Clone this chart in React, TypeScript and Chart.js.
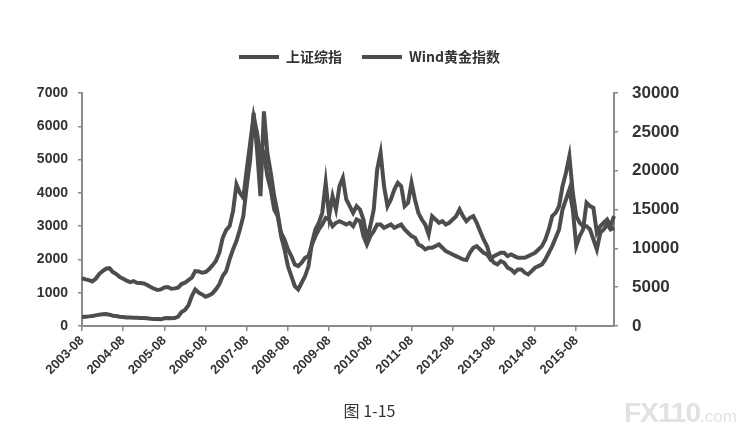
import React, { useEffect, useRef } from 'react';
import { Chart, registerables } from 'chart.js';

Chart.register(...registerables);

const FIRST_YEAR = 2003;
const FIRST_MONTH = 8;
const TICK_EVERY = 12;

const SHANGHAI_LABEL = '上证综指';
const GOLD_LABEL = 'Wind黄金指数';
const CAPTION = '图 1-15';

// 上证综指 (left axis), monthly from 2003-08 to 2016-07
const SHANGHAI = [
  1440, 1400, 1380, 1340, 1420, 1560, 1650, 1720, 1740, 1620, 1560, 1470,
  1420, 1360, 1320, 1350, 1300, 1290, 1280, 1230, 1170, 1120, 1080, 1100,
  1160, 1170, 1120, 1130, 1150, 1260, 1300, 1380, 1450, 1650, 1640, 1600,
  1620, 1700, 1820, 1950, 2200, 2650, 2880, 3000, 3450, 4250, 4000, 3850,
  4700, 5500, 6300, 5800, 5100, 5200, 4500, 4100, 3500, 3300, 2800, 2600,
  2300, 2100, 1850, 1800, 1900, 2050, 2100, 2450, 2700, 2900, 3050, 3250,
  3200, 3000, 3100, 3150, 3100, 3050, 3100, 3000, 3200, 3150, 2700, 2450,
  2700, 2850, 3050, 3050, 2950, 3000, 3050, 2950, 3000, 3050, 2900, 2800,
  2700, 2650, 2450, 2400, 2300, 2350, 2350, 2400, 2450, 2350, 2250, 2200,
  2150, 2100, 2050, 2000, 1980, 2200, 2350, 2400, 2300, 2200, 2150, 2000,
  2100, 2150, 2200, 2200, 2100, 2150, 2100, 2050, 2050, 2050, 2100, 2150,
  2200, 2300, 2400, 2600, 2900, 3300, 3400, 3600, 4200, 4600, 5100, 4000,
  3300, 3100, 3000, 3000, 2900, 2600, 2300, 2800, 2900, 3050, 2900, 2950,
];

// Wind黄金指数 (right axis), monthly from 2003-08 to 2016-07
const GOLD = [
  1160, 1200, 1240, 1290, 1370, 1460, 1500, 1540, 1460, 1330, 1290, 1200,
  1160, 1110, 1110, 1070, 1070, 1030, 1030, 990, 940, 900, 900, 860,
  990, 1030, 990, 1030, 1200, 1800, 2060, 2660, 3860, 4710, 4290, 4070,
  3770, 3940, 4200, 4710, 5360, 6430, 7070, 8570, 9860, 10930, 12430, 14140,
  18000, 21430, 27430, 22710, 16710, 27640, 22290, 19710, 16710, 14570, 11570, 9860,
  7710, 6430, 5140, 4710, 5570, 6430, 7710, 10710, 12430, 13290, 14570, 18430,
  14140, 16710, 15000, 18000, 19070, 16290, 15430, 14570, 15430, 15000, 13710, 11140,
  12860, 15000, 20140, 22290, 18000, 15430, 16290, 17570, 18430, 18000, 15430, 15860,
  18430, 16290, 14570, 13710, 13070, 11790, 14140, 13710, 13290, 13500, 13070, 13290,
  13710, 14140, 15000, 14140, 13500, 13930, 14140, 13290, 12210, 11140, 10290, 8790,
  8140, 7930, 8360, 8140, 7500, 7290, 6860, 7290, 7290, 6860, 6640, 7070,
  7500, 7710, 7930, 8570, 9430, 10290, 11360, 12430, 15000, 16290, 17570, 15000,
  10290, 11570, 12430, 15860, 15430, 15210, 12000, 12860, 13290, 13710, 12860, 14140,
];

const LEFT_MAX = 7000;
const LEFT_STEP = 1000;
const RIGHT_MAX = 30000;
const RIGHT_STEP = 5000;

const MONTHS = SHANGHAI.map((_, i) => {
  const m = FIRST_MONTH - 1 + i;
  const y = FIRST_YEAR + Math.floor(m / 12);
  return `${y}-${String((m % 12) + 1).padStart(2, '0')}`;
});

const LINE_COLOR = '#4d4d4d';
const AXIS_COLOR = '#8a8a8a';
const TEXT_COLOR = '#333333';

const legendSpacer = {
  id: 'legendSpacer',
  beforeInit(chart: any) {
    const legend = chart.legend;
    if (!legend) return;
    const origFit = legend.fit;
    legend.fit = function () {
      origFit.call(this);
      this.height += 19;
    };
  },
};

const plainNumber = (v: any) => String(v);

export default function App() {
  const canvasRef = useRef<HTMLCanvasElement | null>(null);

  useEffect(() => {
    if (!canvasRef.current) return;
    const chart = new Chart(canvasRef.current, {
      type: 'line',
      data: {
        labels: MONTHS,
        datasets: [
          {
            label: SHANGHAI_LABEL,
            data: SHANGHAI,
            yAxisID: 'y',
            borderColor: LINE_COLOR,
            backgroundColor: LINE_COLOR,
            borderWidth: 4,
            pointRadius: 0,
            tension: 0,
          },
          {
            label: GOLD_LABEL,
            data: GOLD,
            yAxisID: 'y1',
            borderColor: LINE_COLOR,
            backgroundColor: LINE_COLOR,
            borderWidth: 4,
            pointRadius: 0,
            tension: 0,
          },
        ],
      },
      options: {
        responsive: true,
        maintainAspectRatio: false,
        animation: false,
        layout: { padding: { top: 30, left: 0, right: 14, bottom: 0 } },
        plugins: {
          tooltip: { enabled: false },
          legend: {
            display: true,
            position: 'top',
            labels: {
              usePointStyle: true,
              pointStyle: 'line',
              pointStyleWidth: 40,
              padding: 20,
              color: TEXT_COLOR,
              font: { family: '"Noto Sans CJK SC", sans-serif', size: 14, weight: 'bold' },
            },
          },
          title: {
            display: true,
            text: CAPTION,
            position: 'bottom',
            color: TEXT_COLOR,
            font: { family: '"Noto Sans CJK SC", sans-serif', size: 16, weight: 'normal' },
            padding: { top: 6, bottom: 22 },
          },
        },
        scales: {
          x: {
            type: 'category',
            offset: false,
            afterBuildTicks: (scale: any) => {
              scale.ticks = scale.ticks.filter((t: any) => t.value % TICK_EVERY === 0);
            },
            afterFit: (scale: any) => {
              scale.height = 69.8;
            },
            grid: {
              display: true,
              drawOnChartArea: false,
              drawTicks: true,
              tickLength: 5,
              color: AXIS_COLOR,
              lineWidth: 1.5,
            },
            border: { display: true, color: AXIS_COLOR, width: 2 },
            ticks: {
              autoSkip: false,
              minRotation: 45,
              maxRotation: 45,
              padding: 2,
              color: TEXT_COLOR,
              font: { family: '"Liberation Sans", Arial, sans-serif', size: 13, weight: 'bold' },
            },
          },
          y: {
            position: 'left',
            min: 0,
            max: LEFT_MAX,
            afterFit: (scale: any) => {
              scale.width = 82;
            },
            grid: {
              display: true,
              drawOnChartArea: false,
              drawTicks: true,
              tickLength: 4,
              color: AXIS_COLOR,
              lineWidth: 1.5,
            },
            border: { display: true, color: AXIS_COLOR, width: 2 },
            ticks: {
              stepSize: LEFT_STEP,
              padding: 10,
              color: TEXT_COLOR,
              callback: plainNumber,
              font: { family: '"Liberation Sans", Arial, sans-serif', size: 14, weight: 'bold' },
            },
          },
          y1: {
            position: 'right',
            min: 0,
            max: RIGHT_MAX,
            afterFit: (scale: any) => {
              scale.width = 125;
            },
            grid: {
              display: true,
              drawOnChartArea: false,
              drawTicks: true,
              tickLength: 4,
              color: AXIS_COLOR,
              lineWidth: 1.5,
            },
            border: { display: true, color: AXIS_COLOR, width: 2 },
            ticks: {
              stepSize: RIGHT_STEP,
              padding: 14,
              color: TEXT_COLOR,
              callback: plainNumber,
              font: { family: '"Liberation Sans", Arial, sans-serif', size: 17, weight: 'bold' },
            },
          },
        },
      },
      plugins: [legendSpacer],
    } as any);
    return () => chart.destroy();
  }, []);

  return (
    <div style={{ position: 'fixed', left: 0, top: 0, width: 753, height: 443, background: '#fff', overflow: 'hidden' }}>
      <canvas ref={canvasRef} />
      <div
        style={{
          position: 'absolute',
          left: 624,
          top: 398,
          fontFamily: '"Liberation Sans", Arial, sans-serif',
          color: '#e2e2e2',
          whiteSpace: 'nowrap',
          pointerEvents: 'none',
          lineHeight: '30px',
        }}
      >
        <span style={{ fontSize: 28, fontWeight: 'bold', letterSpacing: -1 }}>FX110</span>
        <span style={{ fontSize: 17 }}>.com</span>
      </div>
    </div>
  );
}
